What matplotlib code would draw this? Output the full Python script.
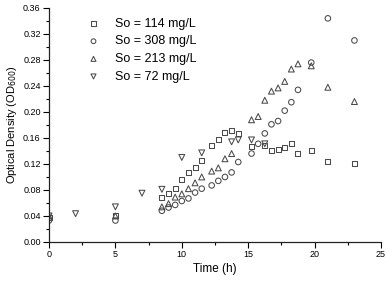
import matplotlib
matplotlib.use("Agg")
import matplotlib.pyplot as plt
from matplotlib.ticker import MultipleLocator

plt.rcParams['font.family'] = ['Liberation Sans', 'DejaVu Sans']

# Data
t_114 = [0, 5, 8.5, 9, 9.5, 10, 10.5, 11, 11.5, 12.25, 12.75, 13.25, 13.75, 14.25,
         15.25, 16.25, 16.75, 17.25, 17.75, 18.25, 18.75, 19.75, 21, 23]
od_114 = [0.037, 0.040, 0.068, 0.075, 0.083, 0.096, 0.107, 0.114, 0.126, 0.148, 0.158, 0.169, 0.172, 0.167,
          0.147, 0.149, 0.140, 0.142, 0.145, 0.151, 0.136, 0.140, 0.124, 0.120]

t_308 = [0, 5, 8.5, 9, 9.5, 10, 10.5, 11, 11.5, 12.25, 12.75, 13.25, 13.75, 14.25,
         15.25, 15.75, 16.25, 16.75, 17.25, 17.75, 18.25, 18.75, 19.75, 21, 23]
od_308 = [0.033, 0.033, 0.048, 0.053, 0.057, 0.063, 0.067, 0.076, 0.082, 0.087, 0.094, 0.100, 0.107, 0.123,
          0.136, 0.151, 0.167, 0.181, 0.186, 0.202, 0.215, 0.234, 0.276, 0.344, 0.310]

t_213 = [0, 5, 8.5, 9, 9.5, 10, 10.5, 11, 11.5, 12.25, 12.75, 13.25, 13.75,
         15.25, 15.75, 16.25, 16.75, 17.25, 17.75, 18.25, 18.75, 19.75, 21, 23]
od_213 = [0.040, 0.040, 0.054, 0.059, 0.069, 0.074, 0.082, 0.091, 0.100, 0.109, 0.114, 0.128, 0.136,
          0.188, 0.193, 0.218, 0.232, 0.237, 0.247, 0.266, 0.274, 0.271, 0.238, 0.216]

t_72 = [0, 2, 5, 7, 8.5, 10, 11.5, 13.75, 14.25, 15.25, 16.25]
od_72 = [0.040, 0.0435, 0.054, 0.075, 0.081, 0.130, 0.137, 0.154, 0.157, 0.157, 0.151]

series = [
    (t_114, od_114, 's', 'So = 114 mg/L', 13),
    (t_308, od_308, 'o', 'So = 308 mg/L', 16),
    (t_213, od_213, '^', 'So = 213 mg/L', 18),
    (t_72, od_72, 'v', 'So = 72 mg/L', 18),
]

fig = plt.figure(figsize=(3.86, 2.84), dpi=100)
ax = fig.add_axes([0.127, 0.148, 0.860, 0.824])

edge = '#4a4a4a'
for t, od, m, lab, s in series:
    ax.scatter(t, od, marker=m, s=s, facecolors='none', edgecolors=edge,
               linewidths=0.75, label=lab)

ax.set_xlim(0, 25)
ax.set_ylim(0, 0.36)
ax.xaxis.set_major_locator(MultipleLocator(5))
ax.xaxis.set_minor_locator(MultipleLocator(2.5))
ax.yaxis.set_major_locator(MultipleLocator(0.04))
ax.yaxis.set_minor_locator(MultipleLocator(0.02))
ax.yaxis.set_major_formatter(plt.FuncFormatter(lambda v, p: f'{v:.2f}'))

ax.spines['top'].set_visible(False)
ax.spines['right'].set_visible(False)
for sp in ('left', 'bottom'):
    ax.spines[sp].set_linewidth(0.9)
    ax.spines[sp].set_color('#222222')
ax.tick_params(which='major', direction='out', length=4, width=0.8, labelsize=6.5, pad=2)
ax.tick_params(which='minor', direction='out', length=2.5, width=0.8)

ax.set_xlabel('Time (h)', fontsize=8.5, labelpad=3)
ax.set_ylabel('Optical Density (OD$_{600}$)', fontsize=8, labelpad=3)

ax.legend(loc='upper left', bbox_to_anchor=(0.07, 0.995), frameon=False,
          fontsize=9, handletextpad=0.75, labelspacing=0.45, borderaxespad=0.3,
          markerscale=0.85)

fig.savefig('out.png', dpi=100)
